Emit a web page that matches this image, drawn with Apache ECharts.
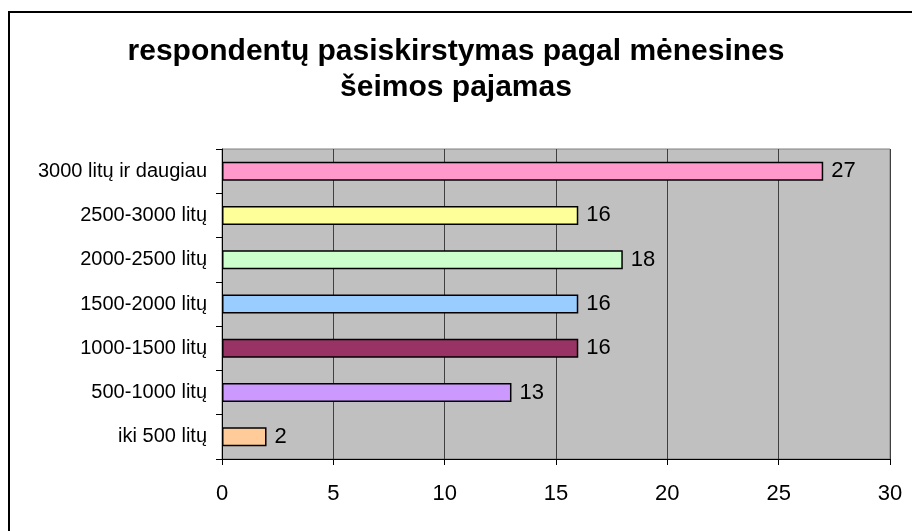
<!DOCTYPE html>
<html>
<head>
<meta charset="utf-8">
<script src="https://cdn.jsdelivr.net/npm/echarts@6/dist/echarts.min.js"></script>
<style>
html, body { margin: 0; padding: 0; background: #fff; }
#chart { width: 912px; height: 531px; }
</style>
</head>
<body>
<div id="chart"></div>
<script>
var categories = ['iki 500 litų', '500-1000 litų', '1000-1500 litų', '1500-2000 litų', '2000-2500 litų', '2500-3000 litų', '3000 litų ir daugiau'];
var values = [2, 13, 16, 16, 18, 16, 27];
var barColors = ['#FFCC99', '#CC99FF', '#993366', '#99CCFF', '#CCFFCC', '#FFFF99', '#FF99CC'];
var xTicks = [0, 5, 10, 15, 20, 25, 30];

var myChart = echarts.init(document.getElementById('chart'));

var option = {
    backgroundColor: '#fff',
    animation: false,
    textStyle: { fontFamily: 'Liberation Sans, Arial, sans-serif' },
    title: {
        text: 'respondentų pasiskirstymas pagal mėnesines\nšeimos pajamas',
        left: 'center',
        top: 29,
        textStyle: {
            fontSize: 30,
            fontWeight: 'bold',
            color: '#000',
            lineHeight: 36,
            fontFamily: 'Liberation Sans, Arial, sans-serif'
        }
    },
    graphic: [{
        type: 'rect',
        shape: { x: 9, y: 12, width: 920, height: 540 },
        style: { fill: 'none', stroke: '#000', lineWidth: 2 },
        z: 100
    }],
    grid: {
        left: 222,
        right: 22,
        top: 149,
        bottom: 72,
        show: true,
        backgroundColor: '#C0C0C0',
        borderColor: '#808080',
        borderWidth: 1
    },
    xAxis: {
        type: 'value',
        min: xTicks[0],
        max: xTicks[xTicks.length - 1],
        interval: 5,
        axisLine: { show: true, lineStyle: { color: '#000', width: 1 } },
        axisTick: { show: true, length: 6, lineStyle: { color: '#000' } },
        axisLabel: { fontSize: 22, color: '#000', margin: 24 },
        splitLine: { show: true, lineStyle: { color: '#404040', width: 1 } }
    },
    yAxis: {
        type: 'category',
        data: categories,
        axisLine: { show: true, lineStyle: { color: '#000', width: 1 } },
        axisTick: { show: true, length: 6, alignWithLabel: false, lineStyle: { color: '#000' } },
        axisLabel: { fontSize: 20, color: '#000', margin: 15 },
        splitLine: { show: false }
    },
    series: [{
        type: 'bar',
        barWidth: 19,
        data: values.map(function (v, i) {
            return {
                value: v,
                itemStyle: { color: barColors[i], borderColor: '#000', borderWidth: 1.5 }
            };
        }),
        label: {
            show: true,
            position: 'right',
            distance: 8,
            fontSize: 22,
            color: '#000'
        }
    }]
};

myChart.setOption(option);
</script>
</body>
</html>
